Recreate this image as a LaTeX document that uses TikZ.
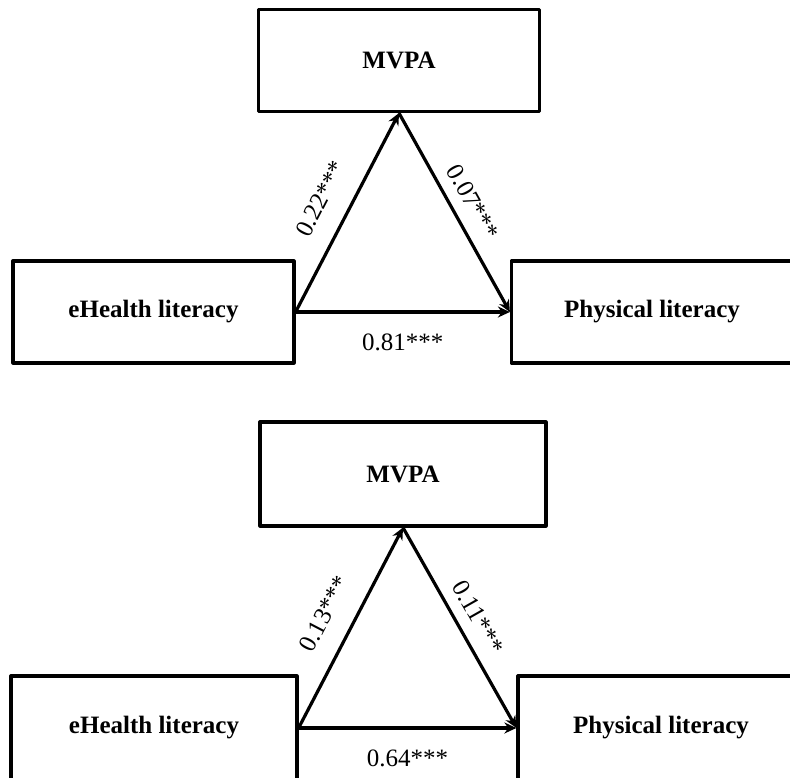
\documentclass[tikz,border=0pt]{standalone}
\usepackage{fontspec}
\setmainfont{Liberation Serif}
\usetikzlibrary{arrows.meta}
\begin{document}
\begin{tikzpicture}[x=1pt, y=1pt, line join=round, >={Stealth[length=12pt,width=11pt]},
	box/.style={draw, line width=3.2pt, inner sep=0pt, font=\fontsize{25}{28}\selectfont\bfseries},
	conn/.style={->, line width=3.2pt},
	coef/.style={inner sep=0pt, font=\fontsize{25}{28}\selectfont}]
	\useasboundingbox (0,0) rectangle (790,778);
	% two panels: MVPA on top, eHealth left, Physical right
	\foreach \k/\mx/\my/\ex/\px/\yy/\w/\h/\ca/\cb/\cc in {1/399/717.5/153.5/652/466/281/102/0.22/0.07/0.81, 2/403/304/154/661/50/286/104/0.13/0.11/0.64}{
		\node[box, minimum width=\w pt, minimum height=\h pt] (M\k) at (\mx,\my) {MVPA};
		\node[box, minimum width=\w pt, minimum height=\h pt] (E\k) at (\ex,\yy) {eHealth literacy};
		\node[box, minimum width=\w pt, minimum height=\h pt] (P\k) at (\px,\yy) {Physical literacy};
		\draw[conn] (E\k.east) -- node[coef, sloped, above=20pt] {\ca***} (M\k.south);
		\draw[conn] (M\k.south) -- node[coef, sloped, above=11pt] {\cb***} (P\k.west);
		\draw[conn] (E\k.east) -- node[coef, below=20pt] {\cc***} (P\k.west);
	}
\end{tikzpicture}
\end{document}
